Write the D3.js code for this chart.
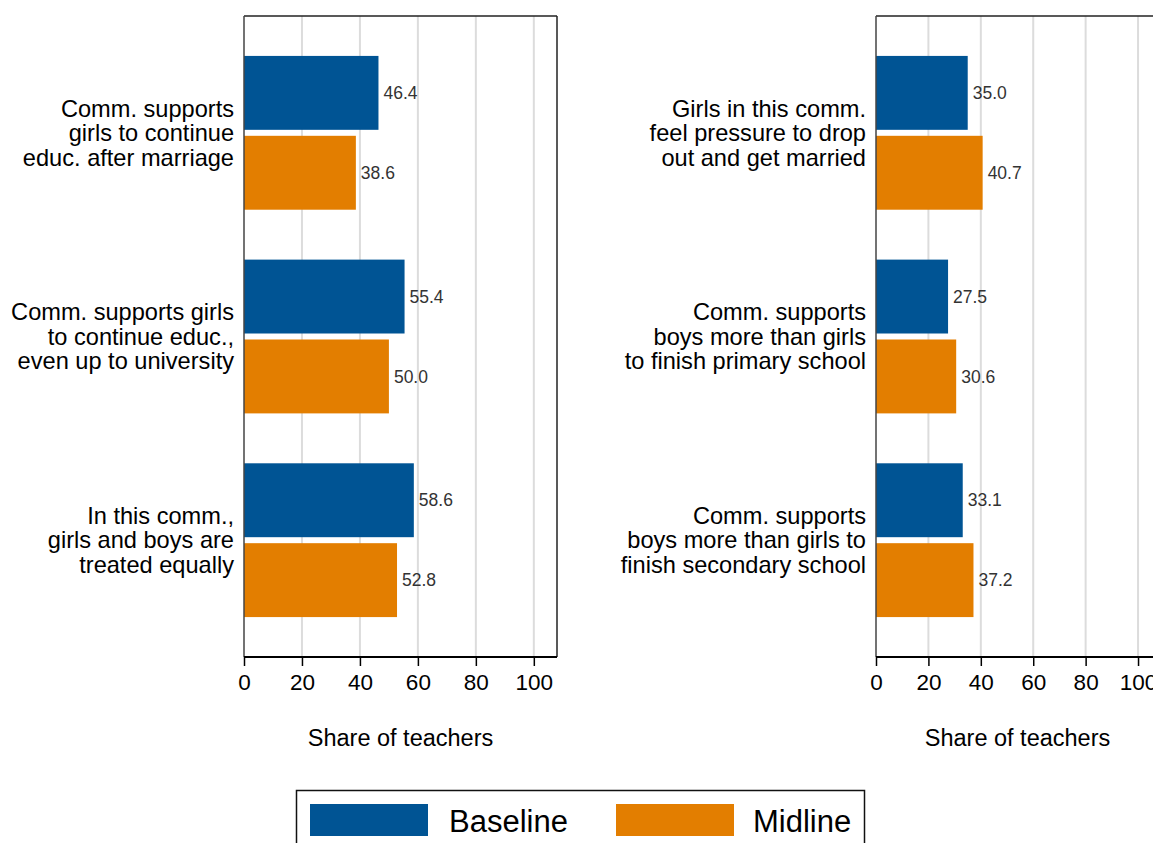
<!DOCTYPE html>
<html>
<head>
<meta charset="utf-8">
<script src="https://cdn.jsdelivr.net/npm/d3@7"></script>
<style>
  html, body { margin: 0; padding: 0; background: #fff; }
  svg { display: block; font-family: "Liberation Sans", Arial, sans-serif; }
</style>
</head>
<body>
<svg id="chart" width="1153" height="843"></svg>
<script>
// Community attitudes reported by teachers, baseline vs midline
const seriesNames = ["Baseline", "Midline"];
const seriesColors = ["#005494", "#e37e00"];
const xTicks = [0, 20, 40, 60, 80, 100];

const leftCategories = [
  ["Comm. supports", "girls to continue", "educ. after marriage"],
  ["Comm. supports girls", "to continue educ.,", "even up to university"],
  ["In this comm.,", "girls and boys are", "treated equally"]
];
const leftBaseline = [46.4, 55.4, 58.6];
const leftMidline = [38.6, 50.0, 52.8];

const rightCategories = [
  ["Girls in this comm.", "feel pressure to drop", "out and get married"],
  ["Comm. supports", "boys more than girls", "to finish primary school"],
  ["Comm. supports", "boys more than girls to", "finish secondary school"]
];
const rightBaseline = [35.0, 27.5, 33.1];
const rightMidline = [40.7, 30.6, 37.2];

const svg = d3.select("#chart");
const plotTop = 16, plotBottom = 657;

function panel(x0, x1, cats, base, mid) {
  const g = svg.append("g");
  const rows = cats.map((c, i) => ({ id: i, lines: c, values: [base[i], mid[i]] }));

  const x = d3.scaleLinear().domain([0, 108]).range([x0, x1]);
  const y = d3.scaleBand().domain(rows.map(d => d.id)).range([plotTop, plotBottom])
    .paddingInner(0.245).paddingOuter(0.196);
  const ys = d3.scaleBand().domain([0, 1]).range([0, y.bandwidth()]).paddingInner(0.075);

  // gridlines
  g.append("g")
    .selectAll("line").data(xTicks.filter(t => t > 0)).join("line")
    .attr("x1", d => x(d)).attr("x2", d => x(d))
    .attr("y1", plotTop).attr("y2", plotBottom)
    .attr("stroke", "#dcdcdc").attr("stroke-width", 2);

  // frame: top and right border
  g.append("line").attr("x1", x0).attr("x2", x1).attr("y1", plotTop).attr("y2", plotTop)
    .attr("stroke", "#222").attr("stroke-width", 1.5);
  g.append("line").attr("x1", x1).attr("x2", x1).attr("y1", plotTop).attr("y2", plotBottom)
    .attr("stroke", "#222").attr("stroke-width", 1.5);

  // bars
  const grp = g.selectAll("g.row").data(rows).join("g")
    .attr("class", "row")
    .attr("transform", d => `translate(0,${y(d.id)})`);

  grp.selectAll("rect").data(d => d.values.map((v, k) => ({ v, k }))).join("rect")
    .attr("x", x(0))
    .attr("y", d => ys(d.k))
    .attr("width", d => x(d.v) - x(0))
    .attr("height", ys.bandwidth())
    .attr("fill", d => seriesColors[d.k]);

  grp.selectAll("text.val").data(d => d.values.map((v, k) => ({ v, k }))).join("text")
    .attr("class", "val")
    .attr("x", d => x(d.v) + 5)
    .attr("y", d => ys(d.k) + ys.bandwidth() / 2)
    .attr("dy", "0.35em")
    .attr("font-size", 17.5)
    .attr("fill", "#333")
    .text(d => d3.format(".1f")(d.v));

  // category labels
  grp.append("text")
    .attr("text-anchor", "end")
    .attr("font-size", 23.6)
    .attr("fill", "#000")
    .selectAll("tspan").data(d => d.lines).join("tspan")
    .attr("x", x0 - 10)
    .attr("y", (d, i) => y.bandwidth() / 2 + (i - 1) * 24.5)
    .attr("dy", "0.35em")
    .text(d => d);

  // left axis line
  g.append("line").attr("x1", x0).attr("x2", x0).attr("y1", plotTop).attr("y2", plotBottom)
    .attr("stroke", "#444").attr("stroke-width", 1.5);

  // bottom axis
  const ax = g.append("g").attr("transform", `translate(0,${plotBottom})`)
    .call(d3.axisBottom(x).tickValues(xTicks).tickSize(9).tickPadding(8));
  ax.select(".domain").attr("stroke", "#000").attr("stroke-width", 2.2)
    .attr("d", `M${x0},0H${x1}`);
  ax.selectAll(".tick line").attr("stroke", "#000").attr("stroke-width", 1.5);
  ax.selectAll(".tick text").attr("font-size", 22.5).attr("fill", "#000")
    .attr("font-family", "Liberation Sans, Arial, sans-serif");

  g.append("text")
    .attr("x", (x0 + x1) / 2).attr("y", 738).attr("dy", "0.35em")
    .attr("text-anchor", "middle").attr("font-size", 23.5).attr("fill", "#000")
    .text("Share of teachers");
}

panel(244, 557, leftCategories, leftBaseline, leftMidline);
panel(876, 1159, rightCategories, rightBaseline, rightMidline);

// legend
const legend = svg.append("g");
legend.append("rect")
  .attr("x", 296.5).attr("y", 790.5).attr("width", 568).attr("height", 80)
  .attr("fill", "#fff").attr("stroke", "#111").attr("stroke-width", 1.5);
const legendX = [310, 616];
seriesNames.forEach((name, i) => {
  legend.append("rect")
    .attr("x", legendX[i]).attr("y", 804).attr("width", 118).attr("height", 32)
    .attr("fill", seriesColors[i]);
  legend.append("text")
    .attr("x", legendX[i] + 139 - i * 2).attr("y", 821).attr("dy", "0.35em")
    .attr("font-size", 31).attr("fill", "#000")
    .text(name);
});
</script>
</body>
</html>
